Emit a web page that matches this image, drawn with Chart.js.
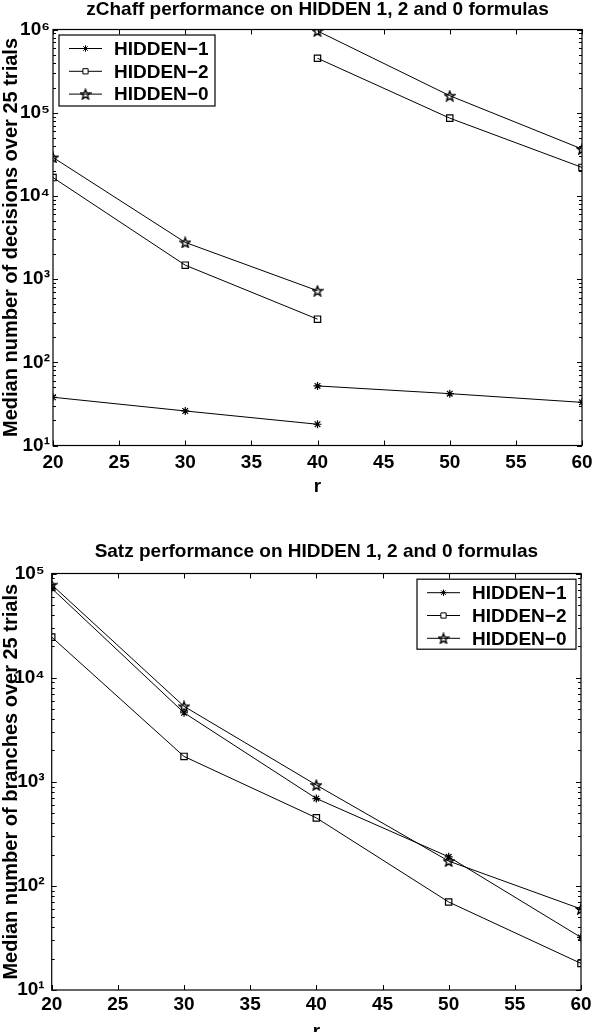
<!DOCTYPE html>
<html>
<head>
<meta charset="utf-8">
<script src="https://cdn.jsdelivr.net/npm/chart.js@4.4.0/dist/chart.umd.min.js"></script>
<style>
html,body{margin:0;padding:0;background:#fff;overflow:hidden;width:592px;height:1032px;}
.box{position:absolute;left:0;width:592px;height:540px;}
#top{top:0;}
#bot{top:544px;}
</style>
</head>
<body>
<div class="box" id="top"><canvas id="zchaff"></canvas></div>
<div class="box" id="bot"><canvas id="satz"></canvas></div>
<script>
// r の値 (zChaff は r=40 で系列が切れる)
const rLow = [20, 30, 40];
const rHigh = [40, 50, 60];
const rAll = [20, 30, 40, 50, 60];
const rTicks = [20, 25, 30, 35, 40, 45, 50, 55, 60];

// zChaff: decisions の中央値
const zH1Low = [38, 26, 18];
const zH1High = [52, 42, 33];
const zH2Low = [16600, 1470, 330];
const zH2High = [451000, 86000, 22000];
const zH0Low = [29000, 2760, 725];
const zH0High = [960000, 160000, 36600];

// Satz: branches の中央値
const sH1 = [72000, 4600, 690, 190, 32];
const sH2 = [24500, 1750, 450, 70, 18];
const sH0 = [78000, 5300, 930, 173, 60];

const names = ["HIDDEN\u22121", "HIDDEN\u22122", "HIDDEN\u22120"];
const zTicks = [10, 100, 1000, 10000, 100000, 1000000];
const sTicks = [10, 100, 1000, 10000, 100000];

const FONT = "'Liberation Sans', Arial, Helvetica, sans-serif";
const sup = {"0":"\u2070","1":"\u00b9","2":"\u00b2","3":"\u00b3","4":"\u2074","5":"\u2075","6":"\u2076","7":"\u2077","8":"\u2078","9":"\u2079"};

// 五芒星マーカー
const makeStar = ()=>{
  const c = document.createElement("canvas");
  c.width = 12; c.height = 12;
  const ctx = c.getContext("2d");
  ctx.beginPath();
  for(let i=0;i<10;i++){
    const r = i%2==0 ? 5.2 : 2.2;
    const a = -Math.PI/2 + i*Math.PI/5;
    const px = 6 + r*Math.cos(a), py = 6.6 + r*Math.sin(a);
    if(i==0){ ctx.moveTo(px,py); }else{ ctx.lineTo(px,py); }
  }
  ctx.closePath();
  ctx.strokeStyle = "#000";
  ctx.lineWidth = 1.4;
  ctx.stroke();
  return c;
}
const starImg = makeStar();

// 途中で切れる系列 (null で線を切る)
const joinSeg = (low, high)=>{
  let pts = low.map((v,i)=>({x:rLow[i], y:v}));
  pts.push({x:rLow[rLow.length-1], y:null});
  high.forEach((v,i)=>pts.push({x:rHigh[i], y:v}));
  return pts;
}
const toPts = (arr)=>arr.map((v,i)=>({x:rAll[i], y:v}));

const mkSets = (d1, d2, d0)=>[
  {label:names[0], data:d1, pointStyle:"star", pointRadius:4, borderWidth:1},
  {label:names[1], data:d2, pointStyle:"rect", pointRadius:4.5, borderWidth:1},
  {label:names[2], data:d0, pointStyle:starImg, pointRadius:5, borderWidth:1}
].map((ds)=>Object.assign(ds, {
  borderColor:"#000", backgroundColor:"rgba(0,0,0,0)", pointBorderColor:"#000",
  pointBackgroundColor:"rgba(0,0,0,0)", pointBorderWidth:1.2, pointHoverRadius:ds.pointRadius,
  tension:0, spanGaps:false, fill:false
}));

// 内向きの目盛りと枠
const boxTicks = {
  id:"boxTicks",
  afterDatasetsDraw(chart){
    const ctx = chart.ctx;
    const a = chart.chartArea;
    const xs = chart.scales.x, ys = chart.scales.y;
    ctx.save();
    ctx.strokeStyle = "#000";
    ctx.lineWidth = 1;
    ctx.beginPath();
    rTicks.forEach((v)=>{
      const px = Math.round(xs.getPixelForValue(v)) + 0.5;
      ctx.moveTo(px, a.bottom); ctx.lineTo(px, a.bottom - 5);
      ctx.moveTo(px, a.top); ctx.lineTo(px, a.top + 5);
    });
    for(let d = Math.log10(ys.min); d < Math.log10(ys.max) + 0.01; d++){
      for(let k=1;k<=9;k++){
        const v = k*Math.pow(10, d);
        if(v > ys.max*1.001) break;
        const py = Math.round(ys.getPixelForValue(v)) + 0.5;
        const len = k==1 ? 5 : 3;
        ctx.moveTo(a.left, py); ctx.lineTo(a.left + len, py);
        ctx.moveTo(a.right, py); ctx.lineTo(a.right - len, py);
      }
    }
    ctx.stroke();
    ctx.lineWidth = 1.2;
    ctx.strokeRect(a.left, a.top, a.right - a.left, a.bottom - a.top);
    ctx.restore();
  }
}

// 枠つき凡例
const boxLegend = {
  id:"boxLegend",
  afterDraw(chart, args, opts){
    const ctx = chart.ctx;
    const a = chart.chartArea;
    const w = opts.width, h = opts.height;
    const x0 = opts.side == "left" ? a.left + opts.dx : a.right - opts.dx - w;
    const y0 = a.top + opts.dy;
    ctx.save();
    ctx.fillStyle = "#fff";
    ctx.fillRect(x0, y0, w, h);
    ctx.strokeStyle = "#000";
    ctx.lineWidth = 1.2;
    ctx.strokeRect(x0, y0, w, h);
    ctx.font = "bold 19px " + FONT;
    ctx.textBaseline = "middle";
    chart.data.datasets.forEach((ds, i)=>{
      const y = y0 + 13.5 + i*22.8;
      ctx.strokeStyle = "#000";
      ctx.lineWidth = 1;
      ctx.beginPath();
      ctx.moveTo(x0 + 10, y); ctx.lineTo(x0 + 43, y);
      ctx.stroke();
      ctx.fillStyle = "#fff";
      Chart.helpers.drawPoint(ctx, {pointStyle:ds.pointStyle, radius:ds.pointRadius - 0.8, borderWidth:1, rotation:0}, x0 + 26.5, y);
      ctx.fillStyle = "#000";
      ctx.fillText(ds.label, x0 + 55, y + 1);
    });
    ctx.restore();
  }
}

const makeChart = (id, title, ylab, sets, yTicks, lay)=>{
  return new Chart(document.getElementById(id), {
    type:"line",
    data:{datasets:sets},
    plugins:[boxTicks, boxLegend],
    options:{
      responsive:true,
      maintainAspectRatio:false,
      animation:false,
      events:[],
      layout:{padding:{left:0, right:0, top:0, bottom:lay.bottom}},
      plugins:{
        legend:{display:false},
        tooltip:{enabled:false},
        title:{display:true, text:title, color:"#000", fullSize:false,
          font:{family:FONT, size:19, weight:"bold", lineHeight:1},
          padding:{top:lay.titleTop, bottom:lay.titleBottom}},
        boxLegend:lay.legend
      },
      scales:{
        x:{
          type:"linear", min:20, max:60,
          afterBuildTicks:(s)=>{ s.ticks = rTicks.map((v)=>({value:v})); },
          afterFit:(s)=>{ s.height = lay.xHeight; s.paddingLeft = 0; s.paddingRight = lay.right; },
          grid:{display:false, drawTicks:false},
          border:{display:false},
          ticks:{color:"#000", padding:lay.xPad, maxRotation:0, autoSkip:false,
            font:{family:FONT, size:19, weight:"bold"}},
          title:{display:true, text:"r", color:"#000", padding:{top:0, bottom:0},
            font:{family:FONT, size:19, weight:"bold", lineHeight:1}}
        },
        y:{
          type:"logarithmic", min:yTicks[0], max:yTicks[yTicks.length-1],
          afterBuildTicks:(s)=>{ s.ticks = yTicks.map((v)=>({value:v})); },
          afterFit:(s)=>{ s.width = lay.yWidth; },
          grid:{display:false, drawTicks:false},
          border:{display:false},
          ticks:{color:"#000", padding:lay.yPad, autoSkip:false,
            font:{family:FONT, size:19, weight:"bold"},
            callback:(v)=>"10" + String(Math.round(Math.log10(v))).split("").map((c)=>sup[c]).join("")},
          title:{display:true, text:ylab, color:"#000", padding:{top:0, bottom:0},
            font:{family:FONT, size:20, weight:"bold", lineHeight:1.1}}
        }
      }
    }
  });
}

const zSets = mkSets(joinSeg(zH1Low, zH1High), joinSeg(zH2Low, zH2High), joinSeg(zH0Low, zH0High));
const sSets = mkSets(toPts(sH1), toPts(sH2), toPts(sH0));

makeChart("zchaff", "zChaff performance on HIDDEN 1, 2 and 0 formulas",
  "Median number of decisions over 25 trials", zSets, zTicks,
  {right:10, bottom:43.5, xHeight:51, xPad:6, yWidth:53, yPad:3, titleTop:0, titleBottom:10.5,
   legend:{side:"left", dx:6, dy:5.5, width:156, height:71}});

makeChart("satz", "Satz performance on HIDDEN 1, 2 and 0 formulas",
  "Median number of branches over 25 trials", sSets, sTicks,
  {right:11, bottom:43, xHeight:51, xPad:3.5, yWidth:51.7, yPad:7, titleTop:-1.5, titleBottom:12,
   legend:{side:"right", dx:5, dy:5.7, width:159, height:70}});
</script>
</body>
</html>
